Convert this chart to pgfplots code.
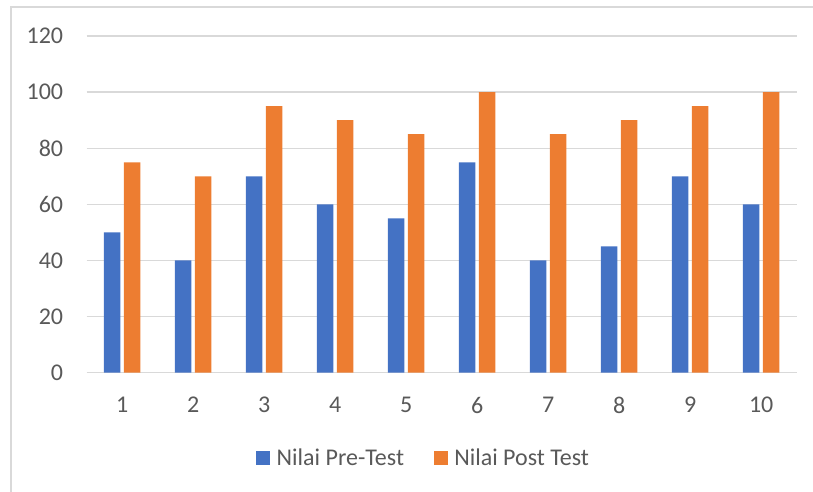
\documentclass[border=0pt]{standalone}
\usepackage{pgfplots}
\pgfplotsset{compat=1.18}
\usepackage{fontspec}
\setmainfont{Carlito}
\definecolor{cblue}{HTML}{4472C4}
\definecolor{corange}{HTML}{ED7D31}
\definecolor{cgrid}{HTML}{D9D9D9}
\definecolor{ctext}{HTML}{595959}
\begin{document}
\begin{tikzpicture}[x=1pt,y=1pt]
\path[use as bounding box] (0,0) rectangle (813,491);
\draw[cgrid, line width=1.3pt] (11,-2) -- (11,484) -- (815,484);
\begin{axis}[
  at={(86.7pt,118.3pt)}, anchor=south west,
  scale only axis, width=710pt, height=336.7pt,
  ybar=3.5pt, bar width=16.5pt,
  xmin=-0.5, xmax=9.5, ymin=0, ymax=120,
  xtick={0,1,2,3,4,5,6,7,8,9},
  xticklabels={1,2,3,4,5,6,7,8,9,10},
  ytick={0,20,40,60,80,100,120},
  major tick length=0pt,
  axis line style={draw=none},
  ymajorgrids, major grid style={cgrid, line width=1.3pt},
  /pgf/number format/assume math mode=true,
  tick label style={font=\fontsize{24}{28}\selectfont, text=ctext, inner sep=0pt},
  yticklabel style={anchor=east, xshift=-23.4pt},
  xticklabel style={anchor=north, yshift=-24pt},
  legend style={at={(0.2385,-0.2533)}, anchor=west, draw=none, fill=none,
    inner sep=0pt, font=\fontsize{24}{28}\selectfont, text=ctext,
    nodes={inner sep=0pt}, column sep=6.5pt,
    /tikz/column 2/.style={column sep=29.7pt}},
  legend columns=2,
  legend image code/.code={\fill[#1] (0pt,-7pt) rectangle (14pt,7pt);},
]
\addplot[fill=cblue, draw=none] coordinates {(0,50) (1,40) (2,70) (3,60) (4,55) (5,75) (6,40) (7,45) (8,70) (9,60)};
\addplot[fill=corange, draw=none] coordinates {(0,75) (1,70) (2,95) (3,90) (4,85) (5,100) (6,85) (7,90) (8,95) (9,100)};
\legend{Nilai Pre-Test, Nilai Post Test}
\end{axis}
\end{tikzpicture}
\end{document}
